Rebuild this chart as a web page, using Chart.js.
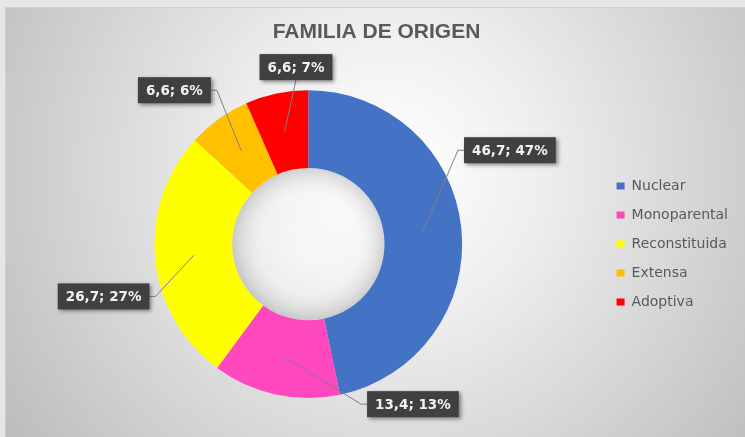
<!DOCTYPE html>
<html>
<head>
<meta charset="utf-8">
<script src="https://cdn.jsdelivr.net/npm/chart.js@4.4.0/dist/chart.umd.min.js"></script>
<style>
  html, body { margin: 0; padding: 0; background: #e6e6e6; }
  canvas { display: block; }
</style>
</head>
<body>
<canvas id="familiaChart" width="745" height="437"></canvas>
<script>
// Data
const categories = ["Nuclear", "Monoparental", "Reconstituida", "Extensa", "Adoptiva"];
const values = [46.7, 13.4, 26.7, 6.6, 6.6];
const percentLabels = ["47%", "13%", "27%", "6%", "7%"];
const sliceColors = ["#4472C4", "#FF47BE", "#FFFF00", "#FFC000", "#FF0000"];

// where each callout box sits, relative to the doughnut centre, in outer radii
const labelSpots = [[1.31, -0.61], [0.68, 1.04], [-1.33, 0.34], [-0.87, -1.0], [-0.08, -1.15]];

// grey frame with the soft radial light, plus shading inside the hole
const backdrop = {
  id: "backdrop",
  beforeDraw(chart) {
    const ctx = chart.ctx;
    const w = chart.width, h = chart.height;
    ctx.save();
    ctx.fillStyle = "#e6e6e6";
    ctx.fillRect(0, 0, w, h);
    const g = ctx.createRadialGradient(390, 170, 10, 390, 170, 480);
    g.addColorStop(0, "#ffffff");
    g.addColorStop(0.3, "#eeeeee");
    g.addColorStop(1, "#bababa");
    ctx.fillStyle = g;
    ctx.fillRect(5, 7, w - 5, h - 7);
    ctx.strokeStyle = "#cdcdcd";
    ctx.lineWidth = 1;
    ctx.strokeRect(5.5, 7.5, w, h);
    ctx.restore();
  },
  beforeDatasetsDraw(chart) {
    const arc = chart.getDatasetMeta(0).data[0];
    if (!arc) return;
    const p = arc.getProps(["x", "y", "innerRadius"], true);
    const ctx = chart.ctx;
    ctx.save();
    const g = ctx.createRadialGradient(p.x, p.y, 0, p.x, p.y, p.innerRadius);
    g.addColorStop(0, "rgba(255,255,255,0.4)");
    g.addColorStop(0.65, "rgba(255,255,255,0.05)");
    g.addColorStop(1, "rgba(0,0,0,0.15)");
    ctx.fillStyle = g;
    ctx.beginPath();
    ctx.arc(p.x, p.y, p.innerRadius, 0, Math.PI * 2);
    ctx.fill();
    ctx.restore();
  }
};

// dark callout boxes with leader lines, like the Excel data labels
const calloutLabels = {
  id: "calloutLabels",
  afterDatasetsDraw(chart) {
    const ctx = chart.ctx;
    const arcs = chart.getDatasetMeta(0).data;
    ctx.save();
    ctx.font = "bold 13.5px 'DejaVu Sans'";
    arcs.forEach((arc, i) => {
      const p = arc.getProps(["x", "y", "startAngle", "endAngle", "innerRadius", "outerRadius"], true);
      const mid = (p.startAngle + p.endAngle) / 2;
      const r = (p.innerRadius + p.outerRadius) / 2;
      const ax = p.x + Math.cos(mid) * r;
      const ay = p.y + Math.sin(mid) * r;
      const bx = p.x + labelSpots[i][0] * p.outerRadius;
      const by = p.y + labelSpots[i][1] * p.outerRadius;
      const text = values[i].toFixed(1).replace(".", ",") + "; " + percentLabels[i];
      const bw = ctx.measureText(text).width + 16;
      const bh = 26;

      let ex, ey, sx, sy;
      if (Math.abs(ax - bx) > bw / 2 + 4) {
        ex = bx + (ax > bx ? bw / 2 : -bw / 2);
        ey = by;
        sx = ex + (ax > bx ? 6 : -6);
        sy = ey;
      } else {
        ex = bx;
        ey = by + (ay > by ? bh / 2 : -bh / 2);
        sx = ex;
        sy = ey;
      }
      ctx.strokeStyle = "#808080";
      ctx.lineWidth = 1;
      ctx.beginPath();
      ctx.moveTo(ax, ay);
      ctx.lineTo(sx, sy);
      ctx.lineTo(ex, ey);
      ctx.stroke();

      ctx.shadowColor = "rgba(0,0,0,0.45)";
      ctx.shadowBlur = 4;
      ctx.shadowOffsetX = 2;
      ctx.shadowOffsetY = 2;
      ctx.fillStyle = "#404040";
      ctx.fillRect(bx - bw / 2, by - bh / 2, bw, bh);
      ctx.shadowColor = "transparent";

      ctx.fillStyle = "#f2f2f2";
      ctx.textAlign = "center";
      ctx.textBaseline = "middle";
      ctx.fillText(text, bx, by + 1);
    });
    ctx.restore();
  }
};

const ctx = document.getElementById("familiaChart").getContext("2d");
new Chart(ctx, {
  type: "doughnut",
  data: {
    labels: categories,
    datasets: [{
      data: values,
      backgroundColor: sliceColors,
      borderWidth: 0
    }]
  },
  options: {
    responsive: false,
    animation: false,
    cutout: "49.5%",
    layout: {
      padding: { top: 3, bottom: 39, left: 15, right: 7 }
    },
    plugins: {
      title: {
        display: true,
        text: "FAMILIA DE ORIGEN",
        color: "#595959",
        font: { family: "'Liberation Sans', Arial", size: 21, weight: "bold" },
        padding: { top: 17, bottom: 45 }
      },
      legend: {
        position: "right",
        fullSize: false,
        labels: {
          boxWidth: 8,
          boxHeight: 7,
          color: "#595959",
          font: { family: "'DejaVu Sans'", size: 14 },
          padding: 15
        }
      },
      tooltip: { enabled: false }
    }
  },
  plugins: [backdrop, calloutLabels]
});
</script>
</body>
</html>
